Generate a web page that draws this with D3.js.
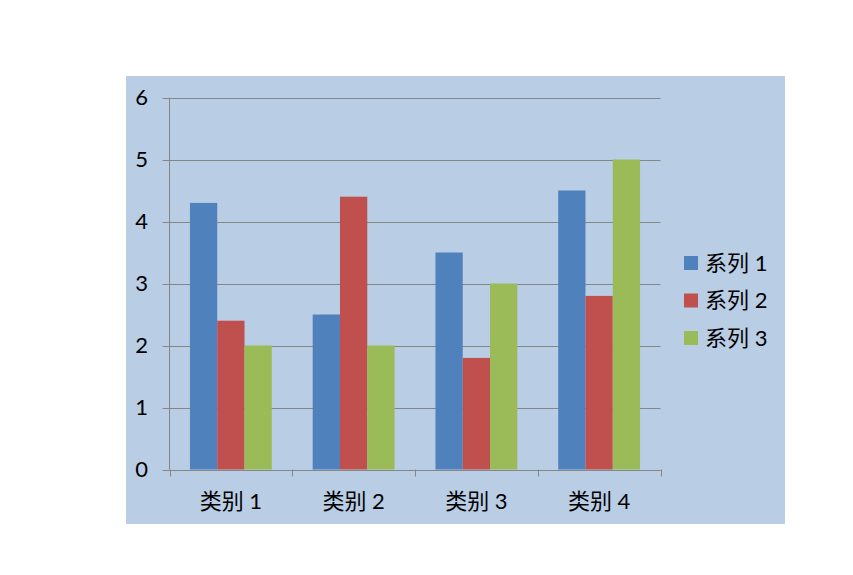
<!DOCTYPE html>
<html><head><meta charset="utf-8">
<script src="https://cdn.jsdelivr.net/npm/d3@7"></script>
<style>body{margin:0;background:#fff}svg{display:block}</style>
</head><body>
<svg id="c" width="853" height="575"></svg>
<script>
const categories = ["类别 1","类别 2","类别 3","类别 4"];
const seriesNames = ["系列 1","系列 2","系列 3"];
const series1 = [4.3, 2.5, 3.5, 4.5];
const series2 = [2.4, 4.4, 1.8, 2.8];
const series3 = [2.0, 2.0, 3.0, 5.0];
const yTicks = [0,1,2,3,4,5,6];
const colors = ["#4F81BD","#C0504D","#9BBB59"];

const allSeries = [series1, series2, series3];
const svg = d3.select("#c");
const font = "Lato, 'Noto Sans CJK SC', sans-serif";

svg.append("rect").attr("x",126).attr("y",76).attr("width",659).attr("height",448).attr("fill","#B9CDE5");

const pLeft=169.5, pRight=660.5, pTop=97.5, pBottom=469.5;
const x = d3.scaleBand().domain(categories).range([pLeft,pRight]).paddingInner(0).paddingOuter(0);
const inner = d3.scaleBand().domain(d3.range(3)).range([0,x.bandwidth()]).paddingInner(0).paddingOuter(0.75);
const y = d3.scaleLinear().domain([0,6]).range([pBottom,pTop]);

// gridlines
svg.append("g").selectAll("line").data(yTicks).join("line")
  .attr("x1",pLeft-7).attr("x2",pRight).attr("y1",d=>Math.round(y(d))+0.5).attr("y2",d=>Math.round(y(d))+0.5)
  .attr("stroke","#868686").attr("stroke-width",1);

// bars
const g = svg.append("g");
categories.forEach((c,i)=>{
  allSeries.forEach((s,j)=>{
    g.append("rect").attr("x",x(c)+inner(j)).attr("width",inner.bandwidth())
      .attr("y",y(s[i])).attr("height",pBottom-y(s[i])).attr("fill",colors[j]);
  });
});

// axes lines
svg.append("line").attr("x1",pLeft).attr("x2",pLeft).attr("y1",pTop).attr("y2",pBottom).attr("stroke","#868686");
svg.append("line").attr("x1",pLeft).attr("x2",pRight).attr("y1",Math.round(pBottom)+0.5).attr("y2",Math.round(pBottom)+0.5).attr("stroke","#868686");
const xt = categories.map(c=>x(c)).concat([pRight]);
svg.append("g").selectAll("line").data(xt).join("line")
  .attr("x1",d=>Math.round(d)+0.5).attr("x2",d=>Math.round(d)+0.5).attr("y1",pBottom).attr("y2",pBottom+7).attr("stroke","#868686");

// y labels
svg.append("g").selectAll("text").data(yTicks).join("text")
  .attr("x",148).attr("y",d=>y(d)).attr("dy","0.35em").attr("text-anchor","end")
  .attr("font-family",font).attr("font-size",22).attr("fill","#000").text(d=>d);

// x labels
svg.append("g").selectAll("text").data(categories).join("text")
  .attr("x",d=>x(d)+x.bandwidth()/2).attr("y",509).attr("text-anchor","middle")
  .attr("font-family",font).attr("font-size",22).attr("fill","#000").text(d=>d);

// legend
const lg = svg.append("g");
seriesNames.forEach((n,j)=>{
  const cy = 263 + j*37.5;
  lg.append("rect").attr("x",684).attr("y",cy-7).attr("width",14).attr("height",14).attr("fill",colors[j]);
  lg.append("text").attr("x",705).attr("y",cy).attr("dy","0.36em")
    .attr("font-family",font).attr("font-size",22).attr("fill","#000").text(n);
});
</script>
</body></html>
